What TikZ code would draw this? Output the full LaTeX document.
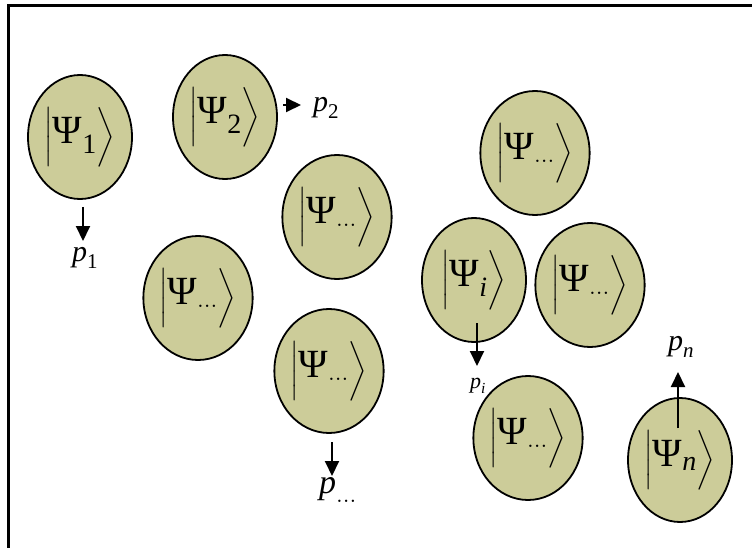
\documentclass[tikz,border=0pt]{standalone}
\usepackage{fontspec}
\setmainfont{Liberation Serif}
\usepackage{amsmath}
\usetikzlibrary{arrows.meta,shapes.geometric}
\definecolor{statefill}{RGB}{204,204,153}
\newcommand\myket[1]{$\left|\rule[-0.4em]{0pt}{1.3em}\text{Ψ}_{#1}\right\rangle$}
\newcommand\myprob[1]{$\text{\itshape p}_{#1}$}
\tikzset{
  state/.style={ellipse, draw=black, line width=1.8pt, fill=statefill,
    minimum width=104pt, minimum height=124pt, inner sep=0pt,
    font=\fontsize{40}{40}\selectfont},
  prob/.style={inner sep=0pt, font=\fontsize{30}{30}\selectfont},
  parr/.style={line width=2pt, -{Triangle[width=14pt,length=15pt]}},
  frame/.style={draw=black, line width=3pt}
}
\begin{document}
\begin{tikzpicture}[x=1pt,y=-1pt]
\useasboundingbox (0,0) rectangle (752,548);
\clip (0,0) rectangle (752,548);
\draw[frame] (8,6) rectangle (770,570);

\node[state] (e1) at (80,137) {\myket{\text{1}}};
\node[state] (e2) at (225,117) {\myket{\text{2}}};
\node[state] (e3) at (337,217) {\myket{\ldots}};
\node[state] (e4) at (198,298) {\myket{\ldots}};
\node[state] (e5) at (329,371) {\myket{\ldots}};
\node[state] (e6) at (535,153) {\myket{\ldots}};
\node[state] (e7) at (474,280) {\myket{\text{\itshape i}}};
\node[state] (e8) at (590,285) {\myket{\ldots}};
\node[state] (e9) at (528,438) {\myket{\ldots}};
\node[state] (e10) at (680,460) {\myket{\text{\itshape n}}};

\node[prob] (p1) at (85,258) {\myprob{\text{1}}};
\node[prob,anchor=west] (p2) at (313,108) {\myprob{\text{2}}};
\node[prob,font=\fontsize{34}{34}\selectfont] (p5) at (338,490) {\myprob{\ldots}};
\node[prob,font=\fontsize{22}{22}\selectfont] (p7) at (478,386) {\myprob{\text{\itshape i}}};
\node[prob] (p10) at (681,347) {\myprob{\text{\itshape n}}};

\coordinate (a1) at (83,207);
\coordinate (b1) at (83,241);
\coordinate (a2) at (283,105);
\coordinate (b2) at (301,105);
\coordinate (a5) at (332,442);
\coordinate (b5) at (332,476);
\coordinate (a7) at (477,323);
\coordinate (b7) at (477,366);
\coordinate (a10) at (678,428);
\coordinate (b10) at (678,372);

\draw[parr] (a1) -- (b1);
\draw[parr] (a2) -- (b2);
\draw[parr] (a5) -- (b5);
\draw[parr] (a7) -- (b7);
\draw[parr] (a10) -- (b10);
\end{tikzpicture}
\end{document}
